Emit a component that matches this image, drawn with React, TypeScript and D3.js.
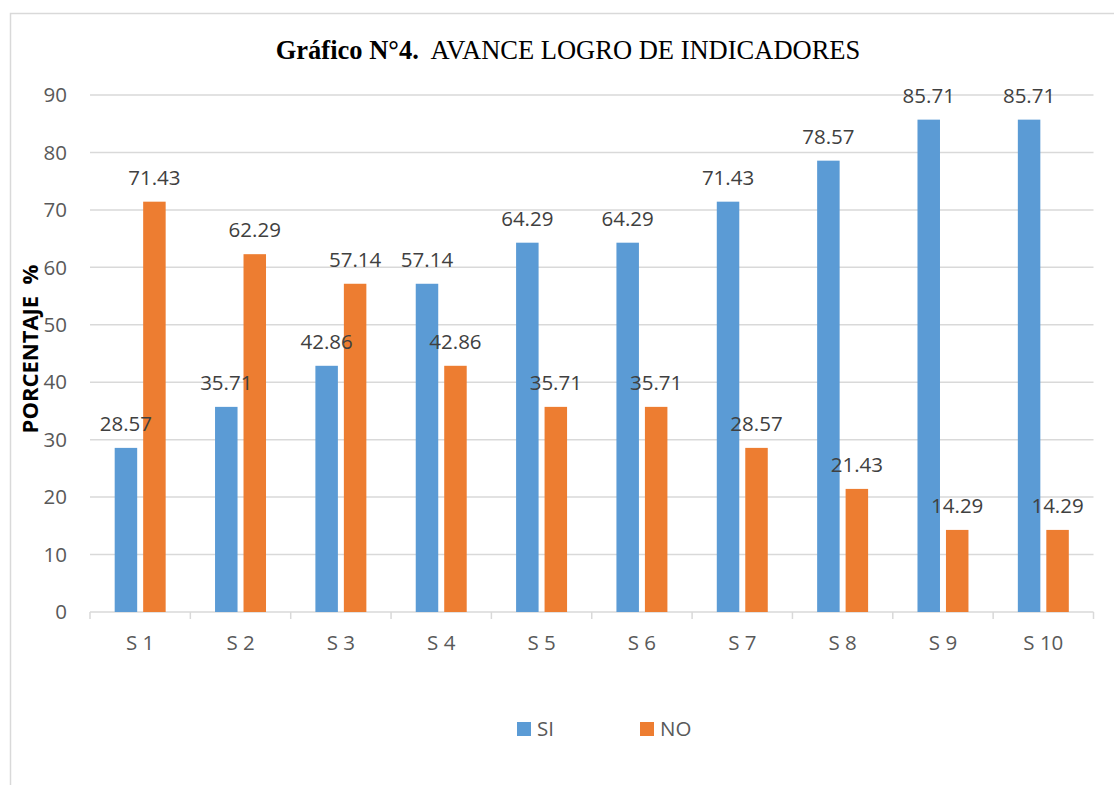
import React from "react";
import * as d3 from "d3";

const categories = ["S 1", "S 2", "S 3", "S 4", "S 5", "S 6", "S 7", "S 8", "S 9", "S 10"];
const siValues = [28.57, 35.71, 42.86, 57.14, 64.29, 64.29, 71.43, 78.57, 85.71, 85.71];
const noValues = [71.43, 62.29, 57.14, 42.86, 35.71, 35.71, 28.57, 21.43, 14.29, 14.29];
const seriesNames = ["SI", "NO"];
const seriesColors = ["#5b9bd5", "#ed7d31"];
const yTicks = [0, 10, 20, 30, 40, 50, 60, 70, 80, 90];

const W = 1114;
const H = 785;
const font = "'Open Sans', 'Noto Sans', sans-serif";

const App: React.FC = () => {
  // escalas
  const x0 = d3.scaleBand<string>().domain(categories).range([90, 1093.5]).padding(0);
  const x1 = d3
    .scaleBand<string>()
    .domain(seriesNames)
    .range([0, x0.bandwidth()])
    .paddingInner(0.21)
    .paddingOuter(0.867);
  const y = d3.scaleLinear().domain([0, 90]).range([612, 95]);

  const series = [siValues, noValues];

  return (
    <div style={{ position: "absolute", left: 0, top: 0 }}>
      <svg width={W} height={H} style={{ display: "block", background: "#fff" }}>
        {/* borde del gráfico */}
        <rect x={10.5} y={13.5} width={W + 10} height={H + 10} fill="#fff" stroke="#d9d9d9" strokeWidth={1.5} />

        {/* título */}
        <text x={568} y={59} textAnchor="middle" fontFamily="'Liberation Serif', 'Times New Roman', serif" fontSize={26.5} fill="#000">
          <tspan fontWeight="bold">Gráfico N°4.</tspan>
          <tspan xmlSpace="preserve">{"  AVANCE LOGRO DE INDICADORES"}</tspan>
        </text>

        {/* rejilla */}
        {yTicks.map((t) => (
          <g key={t}>
            {t > 0 && (
              <line x1={90} x2={1093.5} y1={y(t)} y2={y(t)} stroke="#d9d9d9" strokeWidth={1.5} />
            )}
            <text x={67} y={y(t)} dy="0.35em" textAnchor="end" fontFamily={font} fontSize={20.5} fill="#595959">
              {t}
            </text>
          </g>
        ))}

        {/* eje x */}
        <line x1={90} x2={1093.5} y1={y(0)} y2={y(0)} stroke="#d9d9d9" strokeWidth={1.5} />
        {categories.map((c) => (
          <line key={"t" + c} x1={x0(c)!} x2={x0(c)!} y1={y(0)} y2={y(0) + 7} stroke="#d9d9d9" strokeWidth={1.5} />
        ))}
        <line x1={1093.5} x2={1093.5} y1={y(0)} y2={y(0) + 7} stroke="#d9d9d9" strokeWidth={1.5} />
        {categories.map((c) => (
          <text key={"l" + c} x={x0(c)! + x0.bandwidth() / 2} y={650} textAnchor="middle" fontFamily={font} fontSize={20.5} fill="#595959">
            {c}
          </text>
        ))}

        {/* barras */}
        {categories.map((c, i) => (
          <g key={"b" + c} transform={`translate(${x0(c)},0)`}>
            {seriesNames.map((s, k) => {
              const v = series[k][i];
              return (
                <rect key={s} x={x1(s)!} y={y(v)} width={x1.bandwidth()} height={y(0) - y(v)} fill={seriesColors[k]} />
              );
            })}
          </g>
        ))}

        {/* etiquetas de valores */}
        {categories.map((c, i) => (
          <g key={"v" + c} transform={`translate(${x0(c)},0)`}>
            {seriesNames.map((s, k) => {
              const v = series[k][i];
              return (
                <text key={s} x={x1(s)! + x1.bandwidth() / 2} y={y(v) - 17} textAnchor="middle" fontFamily={font} fontSize={20.5} fill="#404040">
                  {v.toFixed(2)}
                </text>
              );
            })}
          </g>
        ))}

        {/* título eje y */}
        <text
          transform="translate(38,349) rotate(-90)"
          textAnchor="middle"
          fontFamily={font}
          fontSize={22}
          fontWeight="bold"
          fill="#000"
          xmlSpace="preserve"
        >
          {"PORCENTAJE  %"}
        </text>

        {/* leyenda */}
        {seriesNames.map((s, k) => {
          const lx = k === 0 ? 517 : 640;
          return (
            <g key={"leg" + s}>
              <rect x={lx} y={722} width={14} height={14} fill={seriesColors[k]} />
              <text x={lx + 20} y={736} fontFamily={font} fontSize={20.5} fill="#595959">
                {s}
              </text>
            </g>
          );
        })}
      </svg>
    </div>
  );
};

export default App;
